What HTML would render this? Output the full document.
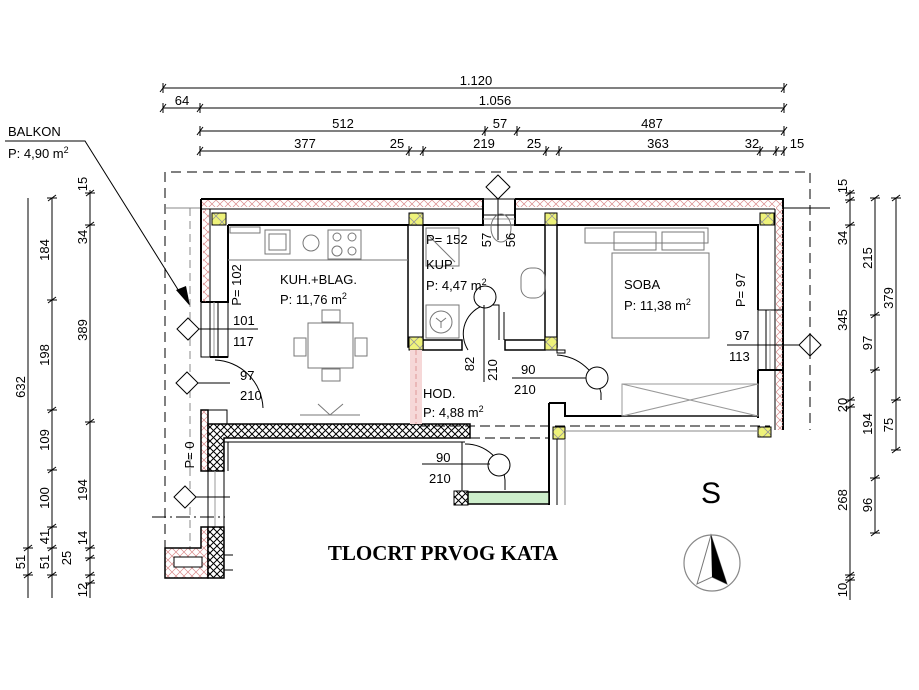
<!DOCTYPE html>
<html><head><meta charset="utf-8"><style>
html,body{margin:0;padding:0;background:#fff;}
svg{display:block;font-family:"Liberation Sans",Arial,sans-serif;}
</style></head><body>
<svg width="919" height="690" viewBox="0 0 919 690" xmlns="http://www.w3.org/2000/svg">
<defs>
<pattern id="pink" width="8" height="8" patternUnits="userSpaceOnUse">
<path d="M0,0 L8,8 M8,0 L0,8" stroke="#d98a8a" stroke-width="0.7"/>
</pattern>
<pattern id="xh" width="7" height="7" patternUnits="userSpaceOnUse">
<rect width="7" height="7" fill="#fff"/>
<path d="M0,0 L7,7 M7,0 L0,7" stroke="#000" stroke-width="1"/>
</pattern>
<pattern id="yx" width="12" height="12" patternUnits="userSpaceOnUse">
<rect width="12" height="12" fill="#eef27a"/>
<path d="M0,0 L12,12 M12,0 L0,12" stroke="#999" stroke-width="0.8"/>
</pattern>
<g id="tk"><path d="M0,-5 L0,5 M-3,4 L3,-4" stroke="#000" stroke-width="1"/></g>
<g id="tkv"><path d="M-5,0 L5,0 M-4,3 L4,-3" stroke="#000" stroke-width="1"/></g>
</defs>

<!-- TOP DIMENSIONS -->
<g stroke="#000" stroke-width="1" fill="none">
<line x1="163" y1="88" x2="784" y2="88"/>
<line x1="163" y1="108" x2="784" y2="108"/>
<line x1="200" y1="131" x2="784" y2="131"/>
<line x1="200" y1="151" x2="784" y2="151"/>
</g>
<use href="#tk" x="163" y="88"/><use href="#tk" x="784" y="88"/>
<use href="#tk" x="163" y="108"/><use href="#tk" x="200" y="108"/><use href="#tk" x="784" y="108"/>
<use href="#tk" x="200" y="131"/><use href="#tk" x="485" y="131"/><use href="#tk" x="517" y="131"/><use href="#tk" x="784" y="131"/>
<use href="#tk" x="200" y="151"/><use href="#tk" x="409" y="151"/><use href="#tk" x="423" y="151"/><use href="#tk" x="546" y="151"/><use href="#tk" x="559" y="151"/><use href="#tk" x="760" y="151"/><use href="#tk" x="776" y="151"/><use href="#tk" x="784" y="151"/>
<g font-size="13" fill="#000" text-anchor="middle">
<text x="476" y="85">1.120</text>
<text x="182" y="105">64</text>
<text x="495" y="105">1.056</text>
<text x="343" y="128">512</text>
<text x="500" y="128">57</text>
<text x="652" y="128">487</text>
<text x="305" y="148">377</text>
<text x="397" y="148">25</text>
<text x="484" y="148">219</text>
<text x="534" y="148">25</text>
<text x="658" y="148">363</text>
<text x="752" y="148">32</text>
<text x="797" y="148">15</text>
</g>

<!-- BALKON label -->
<text x="8" y="136" font-size="13">BALKON</text>
<text x="8" y="158" font-size="13">P: 4,90 m<tspan font-size="9" dy="-5">2</tspan></text>
<polyline points="5,141 85,141 182,296" fill="none" stroke="#000" stroke-width="1"/>
<polygon points="176,290 190,306 186,286" fill="#000"/>

<!-- LEFT DIMENSIONS -->
<g stroke="#000" stroke-width="1">
<line x1="28" y1="198" x2="28" y2="598"/>
<line x1="52" y1="198" x2="52" y2="598"/>
<line x1="90" y1="190" x2="90" y2="598"/>
</g>
<use href="#tkv" x="28" y="548"/><use href="#tkv" x="28" y="575"/>
<use href="#tkv" x="52" y="198"/><use href="#tkv" x="52" y="300"/><use href="#tkv" x="52" y="410"/><use href="#tkv" x="52" y="470"/><use href="#tkv" x="52" y="527"/><use href="#tkv" x="52" y="548"/><use href="#tkv" x="52" y="575"/>
<use href="#tkv" x="90" y="193"/><use href="#tkv" x="90" y="225"/><use href="#tkv" x="90" y="422"/><use href="#tkv" x="90" y="548"/><use href="#tkv" x="90" y="558"/><use href="#tkv" x="90" y="575"/><use href="#tkv" x="90" y="583"/>
<g font-size="13" text-anchor="middle">
<text transform="translate(25,387) rotate(-90)">632</text>
<text transform="translate(25,562) rotate(-90)">51</text>
<text transform="translate(49,250) rotate(-90)">184</text>
<text transform="translate(49,355) rotate(-90)">198</text>
<text transform="translate(49,440) rotate(-90)">109</text>
<text transform="translate(49,498) rotate(-90)">100</text>
<text transform="translate(49,537) rotate(-90)">41</text>
<text transform="translate(49,562) rotate(-90)">51</text>
<text transform="translate(71,558) rotate(-90)">25</text>
<text transform="translate(87,184) rotate(-90)">15</text>
<text transform="translate(87,237) rotate(-90)">34</text>
<text transform="translate(87,330) rotate(-90)">389</text>
<text transform="translate(87,490) rotate(-90)">194</text>
<text transform="translate(87,538) rotate(-90)">14</text>
<text transform="translate(87,590) rotate(-90)">12</text>
</g>

<!-- RIGHT DIMENSIONS -->
<g stroke="#000" stroke-width="1">
<line x1="850" y1="190" x2="850" y2="600"/>
<line x1="875" y1="198" x2="875" y2="533"/>
<line x1="896" y1="198" x2="896" y2="450"/>
</g>
<use href="#tkv" x="850" y="193"/><use href="#tkv" x="850" y="200"/><use href="#tkv" x="850" y="225"/><use href="#tkv" x="850" y="400"/><use href="#tkv" x="850" y="407"/><use href="#tkv" x="850" y="575"/><use href="#tkv" x="850" y="580"/>
<use href="#tkv" x="875" y="198"/><use href="#tkv" x="875" y="315"/><use href="#tkv" x="875" y="370"/><use href="#tkv" x="875" y="478"/><use href="#tkv" x="875" y="533"/>
<use href="#tkv" x="896" y="198"/><use href="#tkv" x="896" y="400"/><use href="#tkv" x="896" y="450"/>
<g font-size="13" text-anchor="middle">
<text transform="translate(847,186) rotate(-90)">15</text>
<text transform="translate(847,238) rotate(-90)">34</text>
<text transform="translate(847,320) rotate(-90)">345</text>
<text transform="translate(847,405) rotate(-90)">20</text>
<text transform="translate(847,500) rotate(-90)">268</text>
<text transform="translate(847,590) rotate(-90)">10</text>
<text transform="translate(872,258) rotate(-90)">215</text>
<text transform="translate(872,343) rotate(-90)">97</text>
<text transform="translate(872,424) rotate(-90)">194</text>
<text transform="translate(872,505) rotate(-90)">96</text>
<text transform="translate(893,298) rotate(-90)">379</text>
<text transform="translate(893,425) rotate(-90)">75</text>
</g>

<!-- DASHED OUTLINE -->
<g fill="none" stroke="#000" stroke-width="1" stroke-dasharray="10,6">
<polyline points="165,550 165,172 810,172 810,430"/>
</g>
<line x1="783" y1="208" x2="830" y2="208" stroke="#000"/>
<line x1="165" y1="208" x2="200" y2="208" stroke="#888"/>
<line x1="190" y1="208" x2="190" y2="550" stroke="#888" stroke-dasharray="8,5"/>

<!-- OUTER WALLS -->
<rect x="201" y="199" width="282" height="8" fill="url(#pink)"/>
<rect x="515" y="199" width="268" height="8" fill="url(#pink)"/>
<g fill="none" stroke="#000" stroke-width="2">
<path d="M201,199 H483 V225 H228"/>
<path d="M515,199 H783 V430"/>
<path d="M515,199 V225 H758 V310"/>
<path d="M201,199 V302"/>
<path d="M228,225 V302 H201"/>
</g>
<line x1="201" y1="209" x2="483" y2="209" stroke="#000"/>
<line x1="515" y1="209" x2="775" y2="209" stroke="#000"/>
<line x1="775" y1="209" x2="775" y2="430" stroke="#000"/>
<line x1="210" y1="209" x2="210" y2="302" stroke="#000"/>
<rect x="776" y="207" width="7" height="223" fill="url(#pink)"/>
<rect x="203" y="209" width="6" height="93" fill="url(#pink)"/>
<g stroke="#000" fill="none" stroke-width="1">
<rect x="201" y="302" width="27" height="55"/>
<line x1="210" y1="302" x2="210" y2="357"/>
<line x1="214" y1="302" x2="214" y2="357" stroke="#999"/>
<line x1="218" y1="302" x2="218" y2="357"/>
<rect x="758" y="310" width="25" height="60"/>
<line x1="766" y1="310" x2="766" y2="370"/>
<line x1="770" y1="310" x2="770" y2="370" stroke="#999"/>
<rect x="483" y="199" width="32" height="26"/>
<line x1="483" y1="215" x2="515" y2="215"/>
<line x1="483" y1="219" x2="515" y2="219" stroke="#999"/>
</g>
<path d="M758,370 H783 M758,370 V418" stroke="#000" stroke-width="2"/>
<path d="M210,357 H228" stroke="#000" stroke-width="2"/>
<path d="M215,360 A50,50 0 0 1 263,408" fill="none" stroke="#000" stroke-width="1"/>
<rect x="201" y="410" width="7" height="61" fill="url(#pink)" stroke="#000" stroke-width="1.5"/>
<rect x="208" y="410" width="19" height="14" fill="none" stroke="#000" stroke-width="1"/>
<path d="M208,424 H470 V438 H224 V471 H208 Z" fill="url(#xh)" stroke="#000" stroke-width="1.5"/>
<line x1="224" y1="442" x2="465" y2="442" stroke="#000"/>
<line x1="228" y1="442" x2="228" y2="471" stroke="#000"/>
<g stroke="#000" fill="none">
<line x1="208" y1="471" x2="208" y2="527"/>
<line x1="215" y1="471" x2="215" y2="527" stroke="#999"/>
<line x1="224" y1="471" x2="224" y2="527"/>
</g>
<path d="M165,548 H201 V527 H208 V578 H165 Z" fill="url(#pink)" stroke="#000" stroke-width="1.5"/>
<rect x="174" y="557" width="28" height="10" fill="#fff" stroke="#000"/>
<rect x="208" y="527" width="16" height="51" fill="url(#xh)" stroke="#000" stroke-width="1.5"/>
<line x1="224" y1="555" x2="233" y2="555" stroke="#000"/>
<line x1="224" y1="570" x2="233" y2="570" stroke="#000"/>
<line x1="152" y1="517" x2="225" y2="517" stroke="#000" stroke-dasharray="14,4,2,4"/>

<!-- INTERIOR WALLS -->
<g fill="#fff" stroke="#000" stroke-width="1.5">
<rect x="408" y="225" width="15" height="122"/>
<rect x="545" y="225" width="12" height="122"/>
<path d="M423,340 H462 V350 H423 Z"/>
<path d="M505,340 H545 V350 H505 Z"/>
</g>
<rect x="212" y="213" width="14" height="12" fill="url(#yx)" stroke="#000"/>
<rect x="409" y="213" width="14" height="12" fill="url(#yx)" stroke="#000"/>
<rect x="545" y="213" width="12" height="12" fill="url(#yx)" stroke="#000"/>
<rect x="760" y="213" width="14" height="12" fill="url(#yx)" stroke="#000"/>
<rect x="409" y="337" width="14" height="13" fill="url(#yx)" stroke="#000"/>
<rect x="545" y="337" width="12" height="13" fill="url(#yx)" stroke="#000"/>
<rect x="553" y="427" width="12" height="12" fill="url(#yx)" stroke="#000"/>
<rect x="758" y="427" width="13" height="10" fill="url(#yx)" stroke="#000"/>
<rect x="410" y="350" width="12" height="74" fill="#f6d8d8"/>
<line x1="416" y1="350" x2="416" y2="424" stroke="#d99" stroke-dasharray="5,3"/>
<path d="M557,350 H565 V353 H557 Z" stroke="#000" fill="none"/>
<path d="M557,355 A48,48 0 0 1 601,393 V400" fill="none" stroke="#000"/>
<circle cx="597" cy="378" r="11" fill="#fff" stroke="#000"/>
<path d="M549,403 H565 V416 H758" fill="none" stroke="#000" stroke-width="2"/>
<line x1="549" y1="403" x2="549" y2="505" stroke="#000" stroke-width="2"/>
<line x1="557" y1="439" x2="557" y2="505" stroke="#000"/>
<line x1="565" y1="439" x2="565" y2="505" stroke="#888"/>
<rect x="622" y="384" width="136" height="32" fill="none" stroke="#999"/>
<path d="M622,384 L758,416 M758,384 L622,416" stroke="#999"/>
<g stroke="#000" stroke-dasharray="10,5" fill="none">
<line x1="420" y1="426" x2="770" y2="426"/>
<line x1="470" y1="438" x2="548" y2="438"/>
</g>
<line x1="565" y1="431" x2="758" y2="431" stroke="#888"/>
<line x1="462" y1="442" x2="462" y2="492" stroke="#000"/>
<path d="M465,444 A40,40 0 0 1 505,480 V490" fill="none" stroke="#000"/>
<circle cx="499" cy="465" r="11" fill="#fff" stroke="#000"/>
<rect x="454" y="491" width="14" height="14" fill="url(#xh)" stroke="#000"/>
<rect x="468" y="492" width="81" height="12" fill="#cdeecb" stroke="#000" stroke-width="1.5"/>

<!-- furniture -->
<g fill="none" stroke="#777" stroke-width="1">
<line x1="228" y1="260" x2="408" y2="260"/>
<rect x="230" y="227" width="30" height="6"/>
<rect x="265" y="230" width="25" height="24"/>
<rect x="269" y="234" width="17" height="16"/>
<circle cx="311" cy="243" r="8"/>
<rect x="328" y="230" width="33" height="29"/>
<circle cx="337" cy="237" r="4"/><circle cx="352" cy="237" r="4"/>
<circle cx="337" cy="251" r="5"/><circle cx="352" cy="251" r="4"/>
<rect x="308" y="323" width="45" height="45"/>
<rect x="322" y="310" width="18" height="12"/>
<rect x="322" y="369" width="18" height="12"/>
<rect x="294" y="338" width="12" height="18"/>
<rect x="355" y="338" width="12" height="18"/>
<path d="M318,404 L330,415 L343,404 M300,415 H360"/>
<rect x="426" y="228" width="33" height="38"/>
<line x1="428" y1="235" x2="455" y2="262"/>
<ellipse cx="501" cy="228" rx="10" ry="14"/>
<rect x="521" y="268" width="24" height="30" rx="10"/>
<rect x="426" y="305" width="33" height="33"/>
<circle cx="441" cy="322" r="11"/>
<path d="M441,322 v6 M441,322 l-5,-4 M441,322 l5,-4"/>
<rect x="585" y="228" width="123" height="15"/>
<rect x="614" y="232" width="42" height="18"/>
<rect x="662" y="232" width="42" height="18"/>
<path d="M612,253 H709 V338 H612 Z"/>
</g>
<path d="M468,350 A30,30 0 0 1 485,305 M491,305 H499 V340" fill="none" stroke="#000"/>
<circle cx="485" cy="297" r="11" fill="#fff" stroke="#000"/>
<line x1="484" y1="305" x2="484" y2="382" stroke="#000"/>
<line x1="504" y1="312" x2="504" y2="340" stroke="#000"/>

<!-- section markers -->
<g fill="#fff" stroke="#000" stroke-width="1">
<path d="M498,175 L510,187 L498,199 L486,187 Z"/>
<line x1="498" y1="199" x2="498" y2="240"/>
<path d="M188,318 L199,329 L188,340 L177,329 Z"/>
<line x1="199" y1="329" x2="258" y2="329"/>
<path d="M187,372 L198,383 L187,394 L176,383 Z"/>
<line x1="198" y1="383" x2="230" y2="383"/>
<path d="M185,486 L196,497 L185,508 L174,497 Z"/>
<line x1="196" y1="497" x2="230" y2="497"/>
<path d="M810,334 L821,345 L810,356 L799,345 Z"/>
<line x1="810" y1="334" x2="810" y2="356"/>
<line x1="727" y1="345" x2="799" y2="345"/>
<line x1="422" y1="464" x2="490" y2="464"/>
<line x1="512" y1="378" x2="586" y2="378"/>
</g>

<!-- LABELS -->
<g font-size="13" fill="#000">
<text x="280" y="284">KUH.+BLAG.</text>
<text x="280" y="304">P:     11,76 m<tspan font-size="9" dy="-5">2</tspan></text>
<text x="426" y="244">P= 152</text>
<text x="426" y="269">KUP.</text>
<text x="426" y="290">P: 4,47 m<tspan font-size="9" dy="-5">2</tspan></text>
<text x="624" y="289">SOBA</text>
<text x="624" y="310">P: 11,38 m<tspan font-size="9" dy="-5">2</tspan></text>
<text x="423" y="398">HOD.</text>
<text x="423" y="417">P: 4,88 m<tspan font-size="9" dy="-5">2</tspan></text>
<text x="233" y="325">101</text>
<text x="233" y="346">117</text>
<text x="240" y="380">97</text>
<text x="240" y="400">210</text>
<text x="521" y="374">90</text>
<text x="514" y="394">210</text>
<text x="436" y="462">90</text>
<text x="429" y="483">210</text>
<text x="735" y="340">97</text>
<text x="729" y="361">113</text>
</g>
<g font-size="13" text-anchor="middle">
<text transform="translate(241,285) rotate(-90)">P= 102</text>
<text transform="translate(194,455) rotate(-90)">P= 0</text>
<text transform="translate(745,290) rotate(-90)">P= 97</text>
<text transform="translate(491,240) rotate(-90)">57</text>
<text transform="translate(515,240) rotate(-90)">56</text>
<text transform="translate(474,364) rotate(-90)">82</text>
<text transform="translate(497,370) rotate(-90)">210</text>
</g>

<text x="443" y="560" font-family="Liberation Serif,serif" font-weight="bold" font-size="21" text-anchor="middle">TLOCRT PRVOG KATA</text>
<text x="711" y="503" font-size="30" text-anchor="middle">S</text>
<circle cx="712" cy="563" r="28" fill="none" stroke="#888" stroke-width="1.2"/>
<path d="M711,535 L697,584 L712,577 L727,584 Z" fill="none" stroke="#777"/>
<path d="M711,535 L712,577 L727,584 Z" fill="#000"/>
</svg>
</body></html>
